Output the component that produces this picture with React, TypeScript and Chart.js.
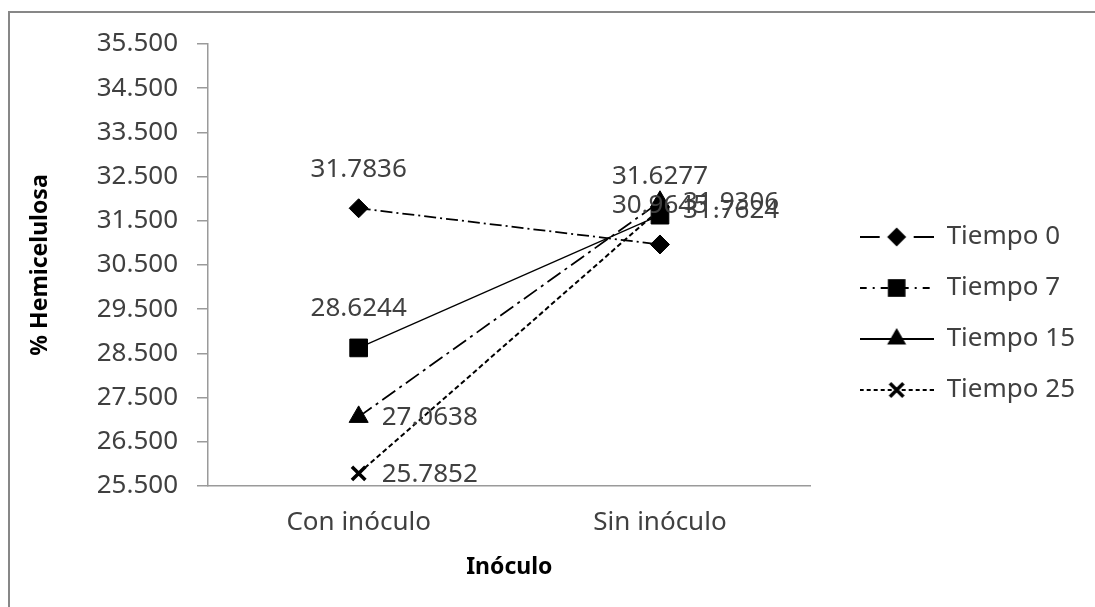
import React, { useEffect, useRef } from 'react';
import { Chart, registerables } from 'chart.js';

Chart.register(...registerables);

// ---------- data ----------
const categories = ['Con inóculo', 'Sin inóculo'];
const seriesNames = ['Tiempo 0', 'Tiempo 7', 'Tiempo 15', 'Tiempo 25'];
const tiempo0 = [31.7836, 30.9645];
const tiempo7 = [28.6244, 31.6277];
const tiempo15 = [27.0638, 31.9306];
const tiempo25 = [25.7852, 31.7624];
const yMin = 25.5;
const yMax = 35.5;
const yStep = 1;
const yTitle = '% Hemicelulosa';
const xTitle = 'Inóculo';

// ---------- styles ----------
const FONT = '"Noto Sans", sans-serif';
const TEXT = '#404040';
const AXIS = '#9a9a9a';

const markerStyles = ['rectRot', 'rect', 'triangle', 'crossRot'];
const markerRadius = [9.5, 12.5, 11, 9.5];
const markerBorder = [1, 1, 1, 3.5];
const lineDashes = [[12, 4, 2, 4], [], [16, 5, 3, 5], [5, 3]];
const lineWidths = [1.75, 1.25, 1.75, 2];
const labelPlacement = ['above', 'above', 'right', 'right'];
const legendDashes = [[20, 34], [7, 6, 2, 6], [], [4, 3]];

const SAMPLE_W = 74;
const SAMPLE_H = 26;

function drawMarker(ctx: CanvasRenderingContext2D, style: string, x: number, y: number, r: number) {
  ctx.save();
  ctx.setLineDash([]);
  ctx.fillStyle = '#000';
  ctx.strokeStyle = '#000';
  ctx.beginPath();
  if (style === 'rectRot') {
    ctx.moveTo(x - r, y);
    ctx.lineTo(x, y - r);
    ctx.lineTo(x + r, y);
    ctx.lineTo(x, y + r);
    ctx.closePath();
    ctx.fill();
  } else if (style === 'rect') {
    const s = r * Math.SQRT1_2;
    ctx.rect(x - s, y - s, 2 * s, 2 * s);
    ctx.fill();
  } else if (style === 'triangle') {
    ctx.moveTo(x, y - r);
    ctx.lineTo(x + 0.866 * r, y + 0.5 * r);
    ctx.lineTo(x - 0.866 * r, y + 0.5 * r);
    ctx.closePath();
    ctx.fill();
  } else {
    const s = r * Math.SQRT1_2;
    ctx.lineWidth = 3.5;
    ctx.moveTo(x - s, y - s);
    ctx.lineTo(x + s, y + s);
    ctx.moveTo(x + s, y - s);
    ctx.lineTo(x - s, y + s);
    ctx.stroke();
  }
  ctx.restore();
}

function makeLegendSample(i: number): HTMLCanvasElement {
  const c = document.createElement('canvas');
  c.width = SAMPLE_W;
  c.height = SAMPLE_H;
  const ctx = c.getContext('2d')!;
  ctx.strokeStyle = '#000';
  ctx.lineWidth = 2;
  ctx.setLineDash(legendDashes[i]);
  ctx.beginPath();
  ctx.moveTo(0, SAMPLE_H / 2);
  ctx.lineTo(SAMPLE_W, SAMPLE_H / 2);
  ctx.stroke();
  drawMarker(ctx, markerStyles[i], SAMPLE_W / 2, SAMPLE_H / 2, markerRadius[i]);
  return c;
}

const framePlugin = {
  id: 'frame',
  beforeDraw(chart: any) {
    const ctx = chart.ctx;
    ctx.save();
    ctx.fillStyle = '#fff';
    ctx.fillRect(0, 0, chart.width, chart.height);
    ctx.strokeStyle = '#878787';
    ctx.lineWidth = 2;
    ctx.strokeRect(9, 12, chart.width + 40, chart.height + 40);
    ctx.restore();
  },
};

const valueLabelPlugin = {
  id: 'valueLabels',
  afterDatasetsDraw(chart: any) {
    const ctx = chart.ctx;
    ctx.save();
    ctx.font = `26px ${FONT}`;
    ctx.fillStyle = TEXT;
    ctx.textBaseline = 'middle';
    chart.data.datasets.forEach((ds: any, i: number) => {
      const meta = chart.getDatasetMeta(i);
      meta.data.forEach((pt: any, j: number) => {
        const txt = Number(ds.data[j]).toFixed(4);
        if (labelPlacement[i] === 'above') {
          ctx.textAlign = 'center';
          ctx.fillText(txt, pt.x, pt.y - 39);
        } else {
          ctx.textAlign = 'left';
          ctx.fillText(txt, pt.x + 23, pt.y + 1);
        }
      });
    });
    ctx.restore();
  },
};

export default function App() {
  const canvasRef = useRef<HTMLCanvasElement | null>(null);

  useEffect(() => {
    if (!canvasRef.current) return;
    const samples = seriesNames.map((_, i) => makeLegendSample(i));
    const seriesData = [tiempo0, tiempo7, tiempo15, tiempo25];

    const chart = new Chart(canvasRef.current, {
      type: 'line',
      data: {
        labels: categories,
        datasets: seriesNames.map((name, i) => ({
          label: name,
          data: seriesData[i],
          borderColor: '#000',
          backgroundColor: '#000',
          borderWidth: lineWidths[i],
          borderDash: lineDashes[i],
          tension: 0,
          fill: false,
          pointStyle: markerStyles[i] as any,
          pointRadius: markerRadius[i],
          pointHoverRadius: markerRadius[i],
          pointBackgroundColor: '#000',
          pointBorderColor: '#000',
          pointBorderWidth: markerBorder[i],
        })),
      },
      options: {
        responsive: false,
        animation: false,
        events: [],
        layout: { padding: { left: 0, top: 44, right: 10, bottom: 24 } },
        plugins: {
          tooltip: { enabled: false },
          title: { display: false },
          legend: {
            display: true,
            position: 'right',
            align: 'center',
            maxWidth: 400,
            labels: {
              usePointStyle: true,
              pointStyleWidth: SAMPLE_W,
              padding: 25,
              color: TEXT,
              font: { family: FONT, size: 26 },
              generateLabels: (ch: any) =>
                ch.data.datasets.map((ds: any, i: number) => ({
                  text: ds.label,
                  pointStyle: samples[i],
                  datasetIndex: i,
                  hidden: false,
                  fillStyle: '#000',
                  strokeStyle: '#000',
                  lineWidth: 0,
                  fontColor: TEXT,
                })),
            },
          },
        },
        scales: {
          x: {
            type: 'category',
            offset: true,
            grid: { display: false, drawTicks: false },
            border: { display: true, color: AXIS, width: 1.5 },
            ticks: {
              color: TEXT,
              font: { family: FONT, size: 26 },
              padding: 21,
              maxRotation: 0,
            },
            title: {
              display: true,
              text: xTitle,
              color: '#000',
              font: { family: FONT, size: 23, weight: 'bold' },
              padding: { top: 0, bottom: 2 },
            },
            afterFit: (s: any) => {
              s.height = 97;
            },
          },
          y: {
            type: 'linear',
            position: 'left',
            min: yMin,
            max: yMax,
            grid: {
              display: true,
              drawOnChartArea: false,
              drawTicks: true,
              tickLength: 11,
              color: AXIS,
              lineWidth: 1.5,
            },
            border: { display: true, color: AXIS, width: 1.5 },
            ticks: {
              stepSize: yStep,
              color: TEXT,
              font: { family: FONT, size: 26 },
              padding: 19,
              callback: (v: any) => Number(v).toFixed(3),
            },
            title: {
              display: true,
              text: yTitle,
              color: '#000',
              font: { family: FONT, size: 23, weight: 'bold' },
              padding: { top: 27, bottom: 0 },
            },
            afterFit: (s: any) => {
              s.width = 208;
            },
          },
          yR: {
            type: 'linear',
            position: 'right',
            display: true,
            ticks: { display: false },
            grid: { display: false, drawTicks: false },
            border: { display: false },
            afterFit: (s: any) => {
              s.width = 24;
            },
          },
        },
      } as any,
      plugins: [framePlugin, valueLabelPlugin],
    });

    return () => chart.destroy();
  }, []);

  return (
    <div style={{ position: 'fixed', left: 0, top: 0, width: 1095, height: 607, background: '#fff' }}>
      <canvas ref={canvasRef} width={1095} height={607} style={{ display: 'block' }} />
    </div>
  );
}
